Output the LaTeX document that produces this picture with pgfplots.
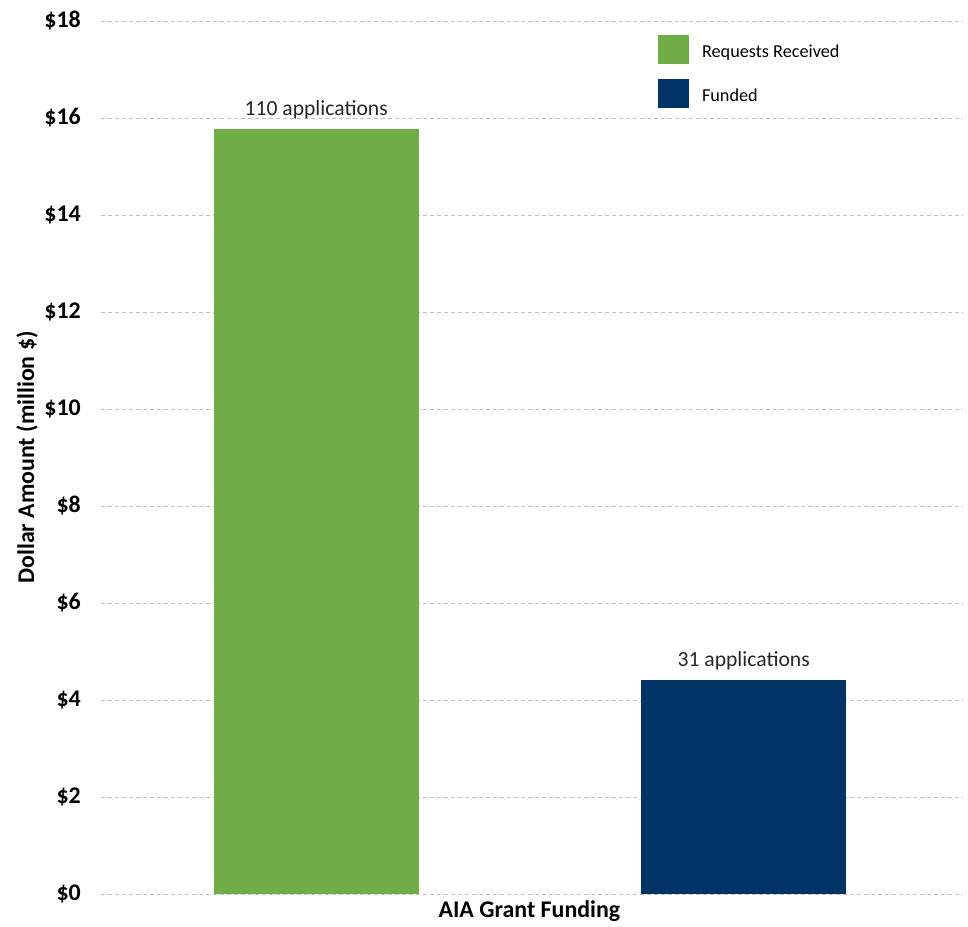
\documentclass[border=0pt]{standalone}
\usepackage{pgfplots}
\pgfplotsset{compat=1.18}
\usepackage{fontspec}
\setmainfont{Carlito}
\definecolor{reqgreen}{HTML}{70AD47}
\definecolor{fundnavy}{HTML}{003366}
\definecolor{gridgray}{HTML}{BFBFBF}
\begin{document}
\begin{tikzpicture}
\useasboundingbox (-101bp,-33bp) rectangle (867bp,894bp);
\begin{axis}[
  at={(0,0)}, anchor=south west,
  scale only axis,
  width=862bp, height=873bp,
  xmin=-0.5035, xmax=1.513,
  ymin=0, ymax=18,
  axis line style={draw=none},
  major tick length=0pt,
  xtick=\empty,
  ytick={0,2,4,6,8,10,12,14,16,18},
  yticklabels={\$0,\$2,\$4,\$6,\$8,\$10,\$12,\$14,\$16,\$18},
  /pgf/number format/assume math mode=true,
  yticklabel style={font=\fontsize{24}{26}\selectfont\bfseries, anchor=east, inner sep=0pt, xshift=-20bp},
  ymajorgrids,
  major grid style={color=gridgray, line width=0.8bp, dash pattern=on 4bp off 3bp},
  xlabel={AIA Grant Funding},
  xlabel style={at={(axis description cs:0.497,0)}, anchor=north, inner sep=0pt, yshift=-7bp, font=\fontsize{24}{26}\selectfont\bfseries},
  ylabel={Dollar Amount (million \$)},
  ylabel style={at={(axis description cs:-0.0858,0.5)}, anchor=center, inner sep=0pt, font=\fontsize{24}{26}\selectfont\bfseries},
  legend style={at={(0.646,0.984)}, anchor=north west, draw=none, fill=none, inner sep=0pt,
    row sep=15bp, font=\fontsize{18.3}{20}\selectfont,
    /tikz/every odd column/.append style={column sep=11bp}},
  legend cell align=left,
  legend image code/.code={\fill[#1,draw=none] (0bp,-12.5bp) rectangle (31bp,16.5bp);},
  every node near coord/.append style={font=\fontsize{21.7}{23}\selectfont, inner sep=0pt, anchor=south, yshift=10bp, color=black!85},
  clip=false,
]
\addplot[ybar, bar shift=0pt, bar width=0.479, fill=reqgreen, draw=none,
  nodes near coords={110 applications}] coordinates {(0,15.77)};
\addlegendentry{Requests Received}
\addplot[ybar, bar shift=0pt, bar width=0.479, fill=fundnavy, draw=none,
  nodes near coords={31 applications}] coordinates {(1,4.41)};
\addlegendentry{Funded}
\end{axis}
\end{tikzpicture}
\end{document}
